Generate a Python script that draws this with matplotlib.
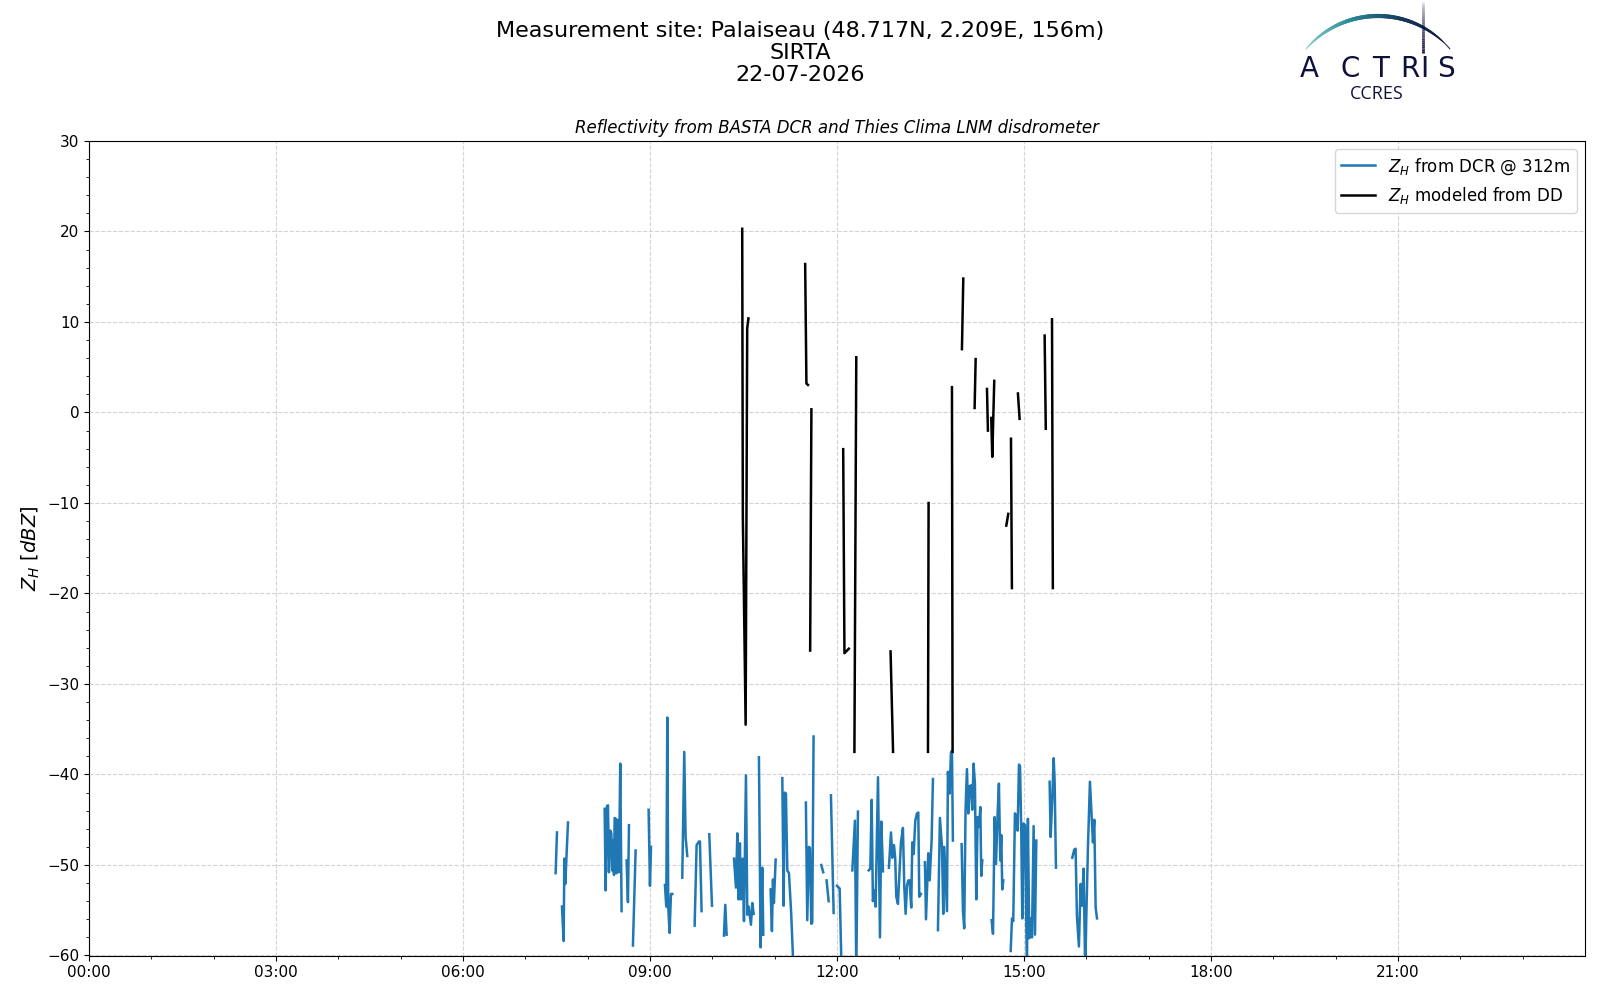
import numpy as np
import matplotlib
matplotlib.use("Agg")
import matplotlib.pyplot as plt
from matplotlib.collections import LineCollection
from matplotlib.colors import LinearSegmentedColormap
from matplotlib.ticker import FuncFormatter

nan = np.nan

# Z_H from DCR @ 312m : time in minutes since 00:00, value in dBZ (nan = gap)
dcr_minutes = [
    449.2, 450.5, nan,
    455.3, 456.9, 457.6, 458.5, 459.5, 461.1, nan,
    496.4, 497.3, 498.6, 499.6, 500.5, 501.8, 502.8, 503.7, 504.4, 505.4,
    506.0, 507.0, 507.9, 508.6, 509.5, 510.2, 511.4, 512.7, nan,
    517.5, 518.8, 519.8, nan,
    523.6, 526.2, nan,
    538.7, 540.0, 541.0, nan,
    554.4, 555.7, 556.7, 557.6, 558.9, 560.2, 561.5, nan,
    571.1, 573.0, 574.3, 575.9, nan,
    583.0, 584.9, 587.2, 588.1, 589.7, nan,
    597.1, 599.7, nan,
    611.2, 612.5, 613.8, nan,
    620.9, 622.8, 624.1, 625.3, 626.6, 627.6, 629.2, 630.5, 632.4, 633.7,
    635.0, 637.2, 638.5, 639.8, nan,
    644.9, 646.5, 648.1, 649.1, nan,
    656.1, 657.4, 658.4, 659.3, 661.0, nan,
    667.4, 668.7, 669.6, 670.9, 672.2, 673.8, 676.0, 678.3, nan,
    690.1, 691.4, 693.0, 694.0, 695.3, 696.2, 697.5, nan,
    704.9, 706.8, nan,
    710.0, 712.0, nan,
    714.2, 716.8, nan,
    720.0, 722.6, 724.5, nan,
    734.8, 737.3, 738.6, 740.2, nan,
    750.5, 752.1, 753.4, 754.6, 755.9, 757.2, 759.5, 761.4, 762.7, 764.3, nan,
    770.0, 772.0, 773.3, 774.9, 776.1, 777.1, 778.7, 781.6, 783.5, 784.8,
    786.1, 787.4, 788.7, 789.9, 791.5, 792.5, 793.8, 795.4, 797.0, 798.3,
    799.2, 800.8, nan,
    804.7, 805.7, 807.9, 809.2, 811.1, 812.4, nan,
    817.2, 819.1, 821.1, 822.3, 823.3, 824.6, 825.9, 826.8, 828.4, 829.7,
    830.7, 831.6, nan,
    840.0, 841.3, 842.5, 843.8, 845.1, 846.4, 847.7, 849.0, 850.2, 851.5,
    852.8, 854.1, 855.4, 856.7, 858.0, 858.9, 859.9, nan,
    868.9, 870.2, 871.8, 873.1, 874.7, 875.9, 877.2, 878.2, 879.1, 880.1, nan,
    887.2, 888.5, 889.7, 891.3, 892.6, 893.9, 895.2, 896.2, 897.4, 898.4,
    899.7, 901.0, 902.9, 903.8, 905.1, 906.4, 907.7, 909.3, 910.6, 911.9, nan,
    924.7, 925.7, 927.3, 928.6, 929.5, 930.8, nan,
    946.5, 948.4, 949.7, 951.0, 952.9, 954.5, 955.8, 957.4, 959.0, 960.0,
    961.6, 963.5, 964.8, 966.4, 967.7, 969.0, 970.3,
]
dcr_dbz = [
    -50.9, -46.4, nan,
    -54.6, -58.4, -49.3, -52.1, -49.5, -45.3, nan,
    -43.8, -52.8, -43.5, -43.4, -50.8, -46.2, -46.5, -50.6, -47.3, -51.1,
    -44.8, -44.9, -50.9, -45.0, -45.1, -50.8, -38.8, -55.1, nan,
    -49.5, -54.1, -45.6, nan,
    -58.9, -48.4, nan,
    -43.9, -52.3, -48.0, nan,
    -52.2, -54.6, -33.7, -54.7, -57.5, -53.2, -53.2, nan,
    -51.4, -37.5, -46.9, -49.0, nan,
    -56.7, -47.8, -47.4, -47.4, -55.1, nan,
    -46.6, -54.5, nan,
    -57.8, -54.4, -57.7, nan,
    -49.3, -52.5, -46.5, -53.8, -47.6, -53.8, -49.3, -56.2, -40.1, -55.5,
    -54.6, -56.6, -54.2, -55.4, nan,
    -38.1, -59.1, -50.3, -57.7, nan,
    -52.7, -57.3, -51.6, -54.2, -49.4, nan,
    -40.4, -54.5, -42.0, -42.1, -50.6, -50.9, -55.5, -62.0, nan,
    -43.1, -56.1, -48.0, -48.1, -56.5, -56.4, -35.8, nan,
    -50.0, -50.8, nan,
    -51.7, -54.0, nan,
    -42.3, -55.3, nan,
    -52.3, -52.6, -62.0, nan,
    -50.6, -45.1, -62.0, -44.1, nan,
    -50.6, -50.4, -42.8, -54.0, -52.8, -54.6, -40.3, -58.0, -45.2, -50.7, nan,
    -50.3, -46.4, -49.2, -47.8, -49.3, -53.5, -54.3, -47.5, -45.9, -52.4,
    -55.4, -52.3, -51.7, -51.7, -54.7, -47.5, -48.8, -45.1, -44.3, -44.2,
    -53.5, -53.2, nan,
    -49.7, -56.0, -48.7, -51.7, -47.3, -40.5, nan,
    -57.2, -44.8, -48.0, -55.4, -48.0, -51.7, -55.1, -39.7, -42.1, -37.6,
    -37.4, -47.3, nan,
    -47.7, -55.1, -57.0, -43.8, -39.4, -44.3, -41.3, -41.2, -43.9, -38.8,
    -41.0, -53.8, -44.7, -45.8, -43.6, -51.2, -49.5, nan,
    -56.1, -57.6, -44.7, -49.9, -44.2, -41.0, -49.5, -46.7, -52.7, -51.7, nan,
    -59.5, -55.9, -56.2, -44.3, -44.6, -46.2, -38.9, -39.1, -46.2, -55.9,
    -45.4, -45.6, -62.0, -44.9, -58.1, -55.9, -58.0, -45.7, -57.7, -47.3, nan,
    -40.8, -46.9, -42.5, -38.2, -40.6, -50.3, nan,
    -49.2, -48.3, -48.2, -55.7, -59.0, -52.1, -54.5, -50.4, -62.0, -55.8,
    -48.0, -40.8, -43.9, -47.5, -45.0, -54.7, -55.9,
]

# Z_H modeled from disdrometer
dd_minutes = [
    628.8, 629.4, 632.1, 633.6, 634.8, nan,
    689.4, 690.6, 692.1, nan,
    694.2, 695.4, nan,
    726.0, 727.2, 731.4, nan,
    736.8, 738.6, nan,
    771.6, 774.0, nan,
    807.6, 808.2, nan,
    830.7, 831.3, nan,
    840.3, 841.6, nan,
    852.5, 853.5, nan,
    864.4, 865.3, nan,
    868.5, 869.5, 871.4, nan,
    883.0, 884.9, nan,
    887.5, 888.4, nan,
    894.2, 895.8, nan,
    919.9, 921.0, nan,
    927.0, 927.8,
]
dd_dbz = [
    20.3, -11.5, -34.5, 9.3, 10.4, nan,
    16.4, 3.2, 3.05, nan,
    -26.3, 0.35, nan,
    -4.05, -26.6, -26.1, nan,
    -37.5, 6.1, nan,
    -26.4, -37.5, nan,
    -37.5, -10.0, nan,
    2.8, -37.5, nan,
    7.0, 14.8, nan,
    0.5, 5.9, nan,
    2.6, -2.0, nan,
    -0.6, -4.9, 3.5, nan,
    -12.5, -11.2, nan,
    -2.9, -19.4, nan,
    2.1, -0.7, nan,
    8.5, -1.8, nan,
    10.3, -19.4,
]

title_lines = ["Measurement site: Palaiseau (48.717N, 2.209E, 156m)", "SIRTA", "22-07-2026"]
subtitle = "Reflectivity from BASTA DCR and Thies Clima LNM disdrometer"

fig = plt.figure(figsize=(16, 10), dpi=100)
ax = fig.add_axes([0.0556, 0.0445, 0.935, 0.8145])

t_dcr = np.array(dcr_minutes, dtype=float) / 60.0
t_dd = np.array(dd_minutes, dtype=float) / 60.0
ax.plot(t_dcr, np.array(dcr_dbz, dtype=float), color="#1f77b4", lw=1.8,
        label=r"$Z_H$ from DCR @ 312m")
ax.plot(t_dd, np.array(dd_dbz, dtype=float), color="black", lw=1.8,
        label=r"$Z_H$ modeled from DD")

ax.set_xlim(0, 24)
ax.set_ylim(-60, 30)
ax.set_xticks(np.arange(0, 24, 3))
ax.set_xticks(np.arange(0, 24, 1), minor=True)
ax.set_yticks(np.arange(-60, 31, 10))
ax.set_yticks(np.arange(-60, 31, 2), minor=True)
ax.xaxis.set_major_formatter(FuncFormatter(lambda v, p: f"{int(round(v)):02d}:00"))
ax.tick_params(labelsize=11)
ax.grid(True, which="major", color="#d3d3d3", ls="--", lw=0.8)
ax.set_ylabel(r"$Z_H$ [$dBZ$]", fontsize=14)
ax.set_title(subtitle, fontsize=12, style="italic")
ax.legend(loc="upper right", fontsize=12)

fig.text(0.5, 0.947, "\n".join(title_lines), ha="center", va="center",
         fontsize=16, linespacing=1.15)

# ACTRIS / CCRES logo, drawn in figure pixel coordinates
lax = fig.add_axes([0, 0, 1, 1], zorder=-1)
lax.set_xlim(0, 1600)
lax.set_ylim(1000, 0)
lax.axis("off")

theta = np.linspace(np.radians(139.3), np.radians(40.7), 120)
arc_x = 1378 + 95 * np.cos(theta)
arc_y = 111 - 95 * np.sin(theta)
pts = np.column_stack([arc_x, arc_y]).reshape(-1, 1, 2)
segs = np.concatenate([pts[:-1], pts[1:]], axis=1)
cmap = LinearSegmentedColormap.from_list("actris", ["#8fd6cf", "#2b8a97", "#16365a", "#10113a"])
frac = np.linspace(0, 1, len(segs))
widths = 0.6 + 2.4 * np.sin(np.pi * np.clip(frac * 1.05, 0, 1)) ** 0.7
lax.add_collection(LineCollection(segs, colors=cmap(frac), linewidths=widths, capstyle="round"))

vy = np.linspace(0, 53, 30)
vpts = np.column_stack([np.full_like(vy, 1423.0), vy]).reshape(-1, 1, 2)
vsegs = np.concatenate([vpts[:-1], vpts[1:]], axis=1)
valpha = np.linspace(0.0, 1.0, len(vsegs)) ** 0.6
vcol = [(0.06, 0.07, 0.23, a) for a in valpha]
lax.add_collection(LineCollection(vsegs, colors=vcol, linewidths=2.0))

for letter, lx in zip("ACTRIS", [1309, 1350, 1381, 1410, 1424, 1446]):
    lax.text(lx, 77, letter, ha="center", va="baseline", fontsize=20,
             family="DejaVu Sans", color="#10113a")
lax.text(1377, 99, "CCRES", ha="center", va="baseline", fontsize=13,
         family="Open Sans", color="#10113a")

fig.savefig("out.png", dpi=100)
